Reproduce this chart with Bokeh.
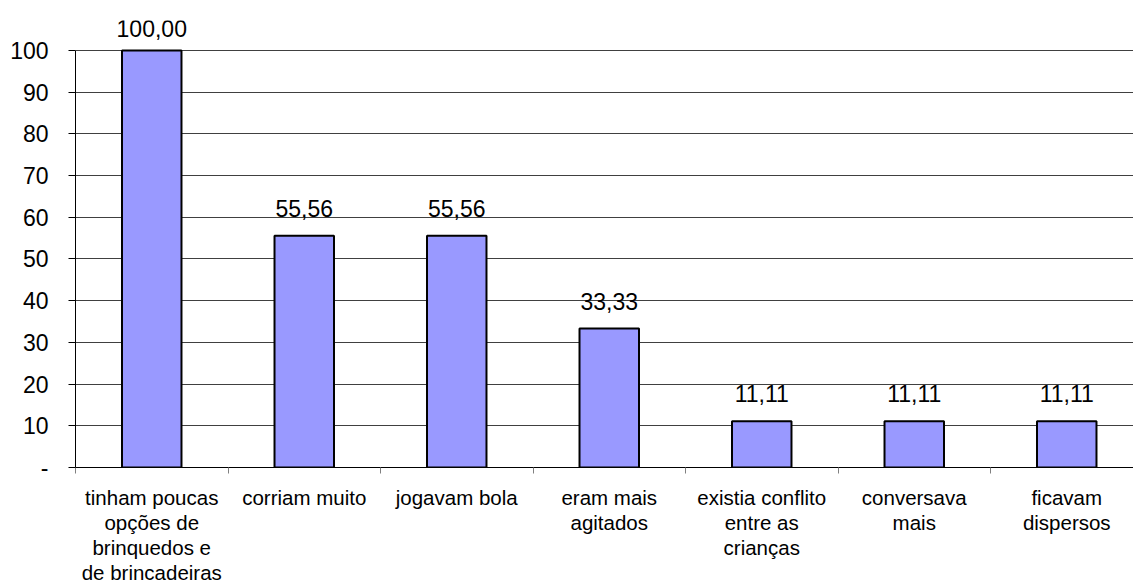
from bokeh.plotting import figure
from bokeh.models import Range1d, FixedTicker, LinearAxis, Grid
from bokeh.core.properties import value
from bokeh.embed import file_html
from bokeh.resources import INLINE

categories = [
    "tinham poucas\nopções de\nbrinquedos e\nde brincadeiras",
    "corriam muito",
    "jogavam bola",
    "eram mais\nagitados",
    "existia conflito\nentre as\ncrianças",
    "conversava\nmais",
    "ficavam\ndispersos",
]
values = [100.00, 55.56, 55.56, 33.33, 11.11, 11.11, 11.11]
y_ticks = [0, 10, 20, 30, 40, 50, 60, 70, 80, 90, 100]

FONT = "Liberation Sans"
FS_NUM = "23px"
FS_CAT = "20.5px"

xs = [i + 0.5 for i in range(len(categories))]
labels = [f"{v:.2f}".replace(".", ",") for v in values]

FW, FH = 1058, 447
YMAX = 107.19
ppu = FH / YMAX
# label gap above bar, clamped so the label stays inside the plot area
offsets = [-(min(19.5, (YMAX - v) * ppu - 16) + 8) for v in values]

p = figure(frame_width=FW, frame_height=FH, output_backend="svg", toolbar_location=None,
           x_range=Range1d(0, FW / 152.5), y_range=Range1d(0, YMAX),
           x_axis_type=None, y_axis_type=None,
           min_border_left=75, min_border_right=0, min_border_top=20, min_border_bottom=114)
p.outline_line_color = None
p.background_fill_color = "white"

yaxis = LinearAxis(ticker=FixedTicker(ticks=y_ticks, minor_ticks=[]))
yaxis.bounds = (0, 100)
yaxis.major_label_overrides = {t: ("-" if t == 0 else str(t)) for t in y_ticks}
yaxis.axis_line_color = "black"
yaxis.major_tick_line_color = "black"
yaxis.major_tick_out = 7
yaxis.major_tick_in = 0
yaxis.major_label_standoff = 20
yaxis.major_label_text_font = FONT
yaxis.major_label_text_font_size = FS_NUM
yaxis.major_label_text_color = "black"
p.add_layout(yaxis, "left")

xaxis = LinearAxis(ticker=FixedTicker(ticks=xs, minor_ticks=list(range(len(categories) + 1))))
xaxis.major_label_overrides = {x: c for x, c in zip(xs, categories)}
xaxis.axis_line_color = "black"
xaxis.major_tick_line_color = None
xaxis.major_tick_out = 0
xaxis.major_tick_in = 0
xaxis.minor_tick_line_color = "#808080"
xaxis.minor_tick_out = 6
xaxis.minor_tick_in = 0
xaxis.major_label_standoff = 12
xaxis.major_label_text_font = FONT
xaxis.major_label_text_font_size = FS_CAT
xaxis.major_label_text_color = "black"
xaxis.major_label_text_line_height = 1.1
p.add_layout(xaxis, "below")

g = Grid(dimension=1, ticker=FixedTicker(ticks=y_ticks[1:]), grid_line_color="#404040")
p.add_layout(g)

p.vbar(x=xs, top=values, bottom=0, width=0.39, fill_color="#9999FF",
       line_color="black", line_width=2)

p.text(x=xs, y=values, text=labels, text_align="center", text_baseline="alphabetic",
       y_offset=offsets, text_font=value(FONT), text_font_size=FS_NUM, text_color="black")

open("out.html", "w").write(file_html(p, INLINE))
